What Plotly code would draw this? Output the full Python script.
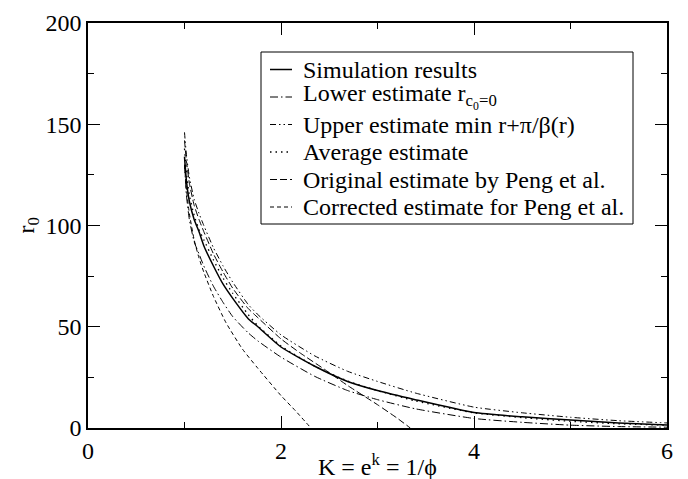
import plotly.graph_objects as go

# ---------------- data ----------------
K = [1.0, 1.02, 1.05, 1.1, 1.15, 1.2, 1.3, 1.4, 1.5, 1.66, 1.76, 2.0, 2.35, 2.69, 3.0, 3.39, 4.0, 4.5, 5.0, 5.5, 6.0]

sim = [134, 122, 112, 103, 97, 90, 80, 71, 64, 54, 50, 40, 30.5, 23, 18.5, 14, 7.6, 5.5, 4.0, 2.5, 1.5]
upper = [146, 135, 124, 113, 106, 100, 89, 80, 72, 61, 56, 46, 35.6, 28, 23, 17.3, 10.3, 7.5, 5.3, 3.6, 2.5]
lower = [130, 115, 103, 92, 86, 80, 70, 62, 55, 47, 43, 35, 25.5, 18.5, 14, 9.5, 4.7, 2.8, 1.4, 0.7, 0.4]
average = [138, 126, 115, 105, 98, 93, 83, 74, 66.5, 56, 50.5, 40.5, 30.5, 23.2, 18.5, 13.4, 7.5, 5.1, 3.3, 2.1, 1.4]

K_peng = [1.0, 1.02, 1.05, 1.1, 1.15, 1.2, 1.3, 1.4, 1.5, 1.66, 1.76, 2.0, 2.2, 2.45, 2.69, 3.0, 3.2, 3.34]
peng = [142, 132, 121, 110, 103, 97, 86, 77, 69, 59, 54.5, 44, 37, 29, 21, 11.5, 5, 0]

K_corr = [1.0, 1.02, 1.05, 1.1, 1.15, 1.2, 1.3, 1.43, 1.6, 1.76, 2.0, 2.15, 2.31]
corr = [130, 118, 106, 93, 84, 77, 65, 52, 39, 29.5, 16, 8.5, 0]

names = [
    "Simulation results",
    "Lower estimate r<sub>c<sub>0</sub>=0</sub>",
    "Upper estimate min r+π/β(r)",
    "Average estimate",
    "Original estimate by Peng et al.",
    "Corrected estimate for Peng et al.",
]
x_ticks = [0, 2, 4, 6]
y_ticks = [0, 50, 100, 150, 200]

# ---------------- styles ----------------
FONT = "Liberation Serif, Times New Roman, Times, serif"
styles = [
    dict(color="black", width=1.5, dash="solid"),
    dict(color="black", width=1, dash="8px,3px,1.5px,3px"),
    dict(color="black", width=1, dash="6px,3px,1.5px,3px,1.5px,3px"),
    dict(color="black", width=1.3, dash="1.5px,4px"),
    dict(color="black", width=1, dash="7px,3px"),
    dict(color="black", width=1, dash="4px,3px"),
]
series = [(K, sim), (K, lower), (K, upper), (K, average), (K_peng, peng), (K_corr, corr)]

W, H = 688, 479
L, R, T, B = 80, 659, 15, 420  # plot area in pixels


def px_x(p):
    return (p - L) / (R - L)


def px_y(p):
    return (B - p) / (B - T)


fig = go.Figure()
for (xs, ys), nm, st in zip(series, names, styles):
    fig.add_trace(go.Scatter(x=xs, y=ys, mode="lines", name=nm, showlegend=False,
                             line=dict(shape="spline", smoothing=0.5, **st)))

axis_common = dict(
    showline=True, linecolor="black", linewidth=1.5, mirror="ticks",
    ticks="inside", ticklen=12, tickwidth=1.2, tickcolor="black",
    showgrid=False, zeroline=False,
    tickfont=dict(family=FONT, size=24, color="black"),
)

fig.update_xaxes(range=[0, 6], tickmode="array", tickvals=x_ticks, ticktext=[str(v) for v in x_ticks],
                 minor=dict(ticks="inside", ticklen=6, dtick=1, tick0=0, tickcolor="black", tickwidth=1),
                 **axis_common)
fig.update_yaxes(range=[0, 200], tickmode="array", tickvals=y_ticks, ticktext=[str(v) for v in y_ticks],
                 minor=dict(ticks="inside", ticklen=6, dtick=25, tick0=0, tickcolor="black", tickwidth=1),
                 **axis_common)

# axis titles
fig.add_annotation(text="K = e<sup>k</sup> = 1/ϕ", xref="paper", yref="paper", x=0.5, y=px_y(457),
                   xanchor="center", yanchor="middle", showarrow=False,
                   font=dict(family=FONT, size=24, color="black"))
fig.add_annotation(text="r<sub>0</sub>", xref="paper", yref="paper", x=px_x(19), y=0.5,
                   xanchor="center", yanchor="middle", showarrow=False, textangle=-90,
                   font=dict(family=FONT, size=24, color="black"))

# legend box drawn by hand to match the reference's compact rows
box_l, box_r, box_t, box_b = 253, 625, 44, 216
fig.add_shape(type="rect", xref="paper", yref="paper",
              x0=px_x(box_l), x1=px_x(box_r), y0=px_y(box_b), y1=px_y(box_t),
              line=dict(color="black", width=1), fillcolor="white", layer="above")
row0, row_gap = 61.5, 27.5
for i, (nm, st) in enumerate(zip(names, styles)):
    yc = row0 + i * row_gap
    fig.add_shape(type="line", xref="paper", yref="paper",
                  x0=px_x(262), x1=px_x(284), y0=px_y(yc), y1=px_y(yc),
                  line=st, layer="above")
    fig.add_annotation(text=nm, xref="paper", yref="paper", x=px_x(293), y=px_y(yc),
                       xanchor="left", yanchor="middle", showarrow=False,
                       font=dict(family=FONT, size=24, color="black"))

fig.update_layout(
    width=W, height=H,
    margin=dict(l=L, r=W - R, t=T, b=H - B, autoexpand=False),
    paper_bgcolor="white", plot_bgcolor="white",
    font=dict(family=FONT, color="black"),
    showlegend=False,
)

fig.write_html("out.html")
